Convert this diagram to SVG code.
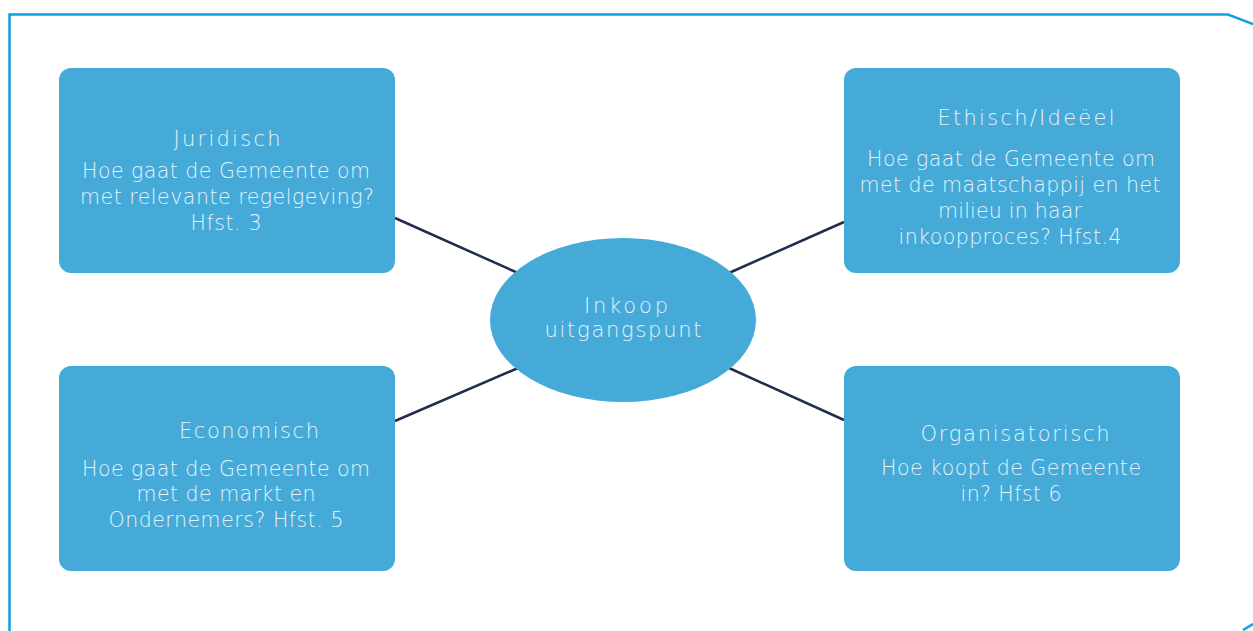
<svg xmlns="http://www.w3.org/2000/svg" width="1253" height="631" viewBox="0 0 1253 631">
<style>
.box{fill:#45aad8;}
.t{font-family:"DejaVu Sans","Liberation Sans",Arial,sans-serif;font-weight:200;font-size:20.5px;fill:#e6f3fa;text-anchor:middle;}
.h{font-size:21px;}
.c{stroke:#202d4c;stroke-width:2.5;fill:none;}
.frame{stroke:#11a0df;stroke-width:2.5;fill:none;}
</style>
<rect width="1253" height="631" fill="#ffffff"/>
<path class="frame" d="M9.5,631 L9.5,14.5 L1228,14.5 L1253,24"/>
<path class="frame" d="M1243,630 Q1248,627 1253,624"/>
<g id="connectors">
<line class="c" x1="395" y1="218" x2="518" y2="273"/>
<line class="c" x1="729" y1="273" x2="844" y2="222"/>
<line class="c" x1="518" y1="368" x2="395" y2="421"/>
<line class="c" x1="729" y1="368" x2="844" y2="420"/>
</g>
<g id="juridisch">
<rect class="box" x="59" y="68" width="336" height="205" rx="12"/>
<text class="t h" x="227" y="146" textLength="107">Juridisch</text>
<text class="t" x="226" y="178" textLength="288">Hoe gaat de Gemeente om</text>
<text class="t" x="227" y="204" textLength="294">met relevante regelgeving?</text>
<text class="t" x="226" y="230" textLength="71">Hfst. 3</text>
</g>
<g id="ethisch">
<rect class="box" x="844" y="68" width="336" height="205" rx="12"/>
<text class="t h" x="1026" y="125" textLength="177">Ethisch/Ideëel</text>
<text class="t" x="1011" y="166" textLength="288">Hoe gaat de Gemeente om</text>
<text class="t" x="1010" y="192" textLength="301">met de maatschappij en het</text>
<text class="t" x="1010" y="218" textLength="144">milieu in haar</text>
<text class="t" x="1010" y="244" textLength="223">inkoopproces? Hfst.4</text>
</g>
<g id="inkoop">
<ellipse class="box" cx="623" cy="320" rx="133" ry="82"/>
<text class="t h" x="626" y="313" textLength="84">Inkoop</text>
<text class="t h" x="623" y="337" textLength="157">uitgangspunt</text>
</g>
<g id="economisch">
<rect class="box" x="59" y="366" width="336" height="205" rx="12"/>
<text class="t h" x="249" y="438" textLength="140">Economisch</text>
<text class="t" x="226" y="476" textLength="288">Hoe gaat de Gemeente om</text>
<text class="t" x="226" y="501" textLength="179">met de markt en</text>
<text class="t" x="226" y="527" textLength="235">Ondernemers? Hfst. 5</text>
</g>
<g id="organisatorisch">
<rect class="box" x="844" y="366" width="336" height="205" rx="12"/>
<text class="t h" x="1015" y="441" textLength="189">Organisatorisch</text>
<text class="t" x="1011" y="475" textLength="260">Hoe koopt de Gemeente</text>
<text class="t" x="1011" y="501" textLength="101">in? Hfst 6</text>
</g>
</svg>
